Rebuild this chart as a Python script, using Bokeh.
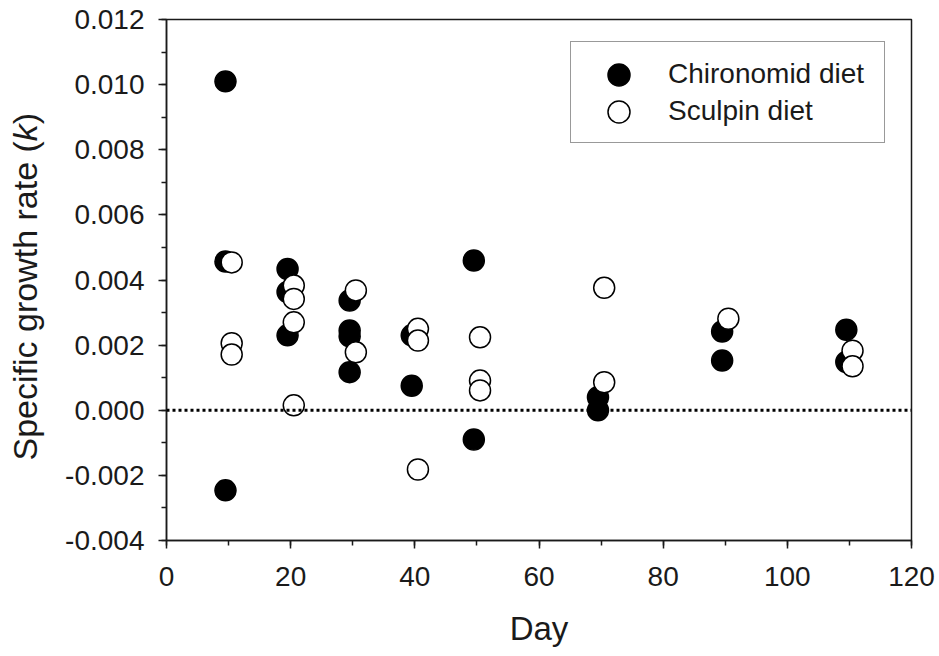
from math import pi
from bokeh.plotting import figure
from bokeh.layouts import row
from bokeh.models import (Range1d, SingleIntervalTicker, PrintfTickFormatter, Span,
                          Label, Legend, LegendItem)
from bokeh.embed import file_html
from bokeh.resources import INLINE

# ---- data ----
chiro_day = [9.5, 9.5, 9.5,
             19.5, 19.5, 19.5,
             29.5, 29.5, 29.5, 29.5,
             39.5, 39.5,
             49.5, 49.5,
             69.5, 69.5,
             89.5, 89.5,
             109.5, 109.5]
chiro_k = [0.01010, 0.00457, -0.00246,
           0.00434, 0.00363, 0.00230,
           0.00337, 0.00245, 0.00227, 0.00117,
           0.00230, 0.00075,
           0.00460, -0.00090,
           0.00040, 0.00000,
           0.00242, 0.00153,
           0.00247, 0.00148]
sculp_day = [10.5, 10.5, 10.5,
             20.5, 20.5, 20.5, 20.5,
             30.5, 30.5,
             40.5, 40.5, 40.5,
             50.5, 50.5, 50.5,
             70.5, 70.5,
             90.5,
             110.5, 110.5]
sculp_k = [0.00454, 0.00206, 0.00171,
           0.00383, 0.00342, 0.00270, 0.00015,
           0.00368, 0.00178,
           0.00250, 0.00214, -0.00182,
           0.00224, 0.00091, 0.00061,
           0.00376, 0.00086,
           0.00281,
           0.00183, 0.00135]
series_labels = ["Chironomid diet", "Sculpin diet"]
x_label = "Day"
y_label_parts = ["Specific growth rate (", "k", ")"]

# ---- layout constants ----
W, H = 939, 656
SIDE = 56                      # narrow strip holding the y-axis title
L, R, T, B = 166, 28, 19, 116  # frame margins in the full window
XMIN, XMAX, YMIN, YMAX = 0, 120, -0.004, 0.012
FONT = "Liberation Sans"
INK = "#1a1a1a"
MS = 21

p = figure(width=W - SIDE, height=H, x_range=Range1d(XMIN, XMAX), y_range=Range1d(YMIN, YMAX),
           output_backend="svg", toolbar_location=None,
           min_border_left=L - SIDE, min_border_right=R, min_border_top=T, min_border_bottom=B)
p.background_fill_color = "white"
p.border_fill_color = "white"
p.outline_line_color = INK
p.outline_line_width = 1.5
p.xgrid.visible = False
p.ygrid.visible = False

p.xaxis.ticker = SingleIntervalTicker(interval=20, num_minor_ticks=2)
p.yaxis.ticker = SingleIntervalTicker(interval=0.002, num_minor_ticks=2)
p.yaxis.formatter = PrintfTickFormatter(format="%.3f")
for ax in (p.xaxis, p.yaxis):
    ax.axis_line_color = INK
    ax.axis_line_width = 1.5
    ax.major_tick_line_color = INK
    ax.minor_tick_line_color = INK
    ax.major_tick_line_width = 1.5
    ax.minor_tick_line_width = 1.5
    ax.major_tick_in = 0
    ax.major_tick_out = 8
    ax.minor_tick_in = 0
    ax.minor_tick_out = 5
    ax.major_label_text_font = FONT
    ax.major_label_text_font_size = "28px"
    ax.major_label_text_color = INK
p.xaxis.major_label_standoff = 18
p.yaxis.major_label_standoff = 14
p.xaxis.axis_label = x_label
p.xaxis.axis_label_text_font = FONT
p.xaxis.axis_label_text_font_size = "33px"
p.xaxis.axis_label_text_font_style = "normal"
p.xaxis.axis_label_text_color = INK
p.xaxis.axis_label_standoff = 21

# zero reference line
p.add_layout(Span(location=0, dimension="width", line_color="black",
                  line_width=3, line_dash="3 3"))

r1 = p.scatter(chiro_day, chiro_k, marker="circle", size=MS,
               fill_color="black", line_color="black", line_width=1.5)
r2 = p.scatter(sculp_day, sculp_k, marker="circle", size=MS,
               fill_color="white", line_color="black", line_width=1.5)

# legend box with labels (rows 37 px apart)
frame_bottom = H - B
box_left, box_top = 570, 43
pad, gh, gw = 13, 37, 70
legend = Legend(items=[LegendItem(label=series_labels[0], renderers=[r1]),
                       LegendItem(label=series_labels[1], renderers=[r2])],
                location=(box_left - L, frame_bottom - (box_top + 2 * pad + 2 * gh)),
                glyph_width=gw, glyph_height=gh, padding=pad, spacing=0,
                label_standoff=14, label_width=203, margin=0,
                border_line_color="#333333", border_line_width=1.2,
                label_text_font=FONT, label_text_font_size="28px",
                label_text_color=INK, background_fill_color="white",
                background_fill_alpha=1)
p.add_layout(legend)

# full-size legend markers laid over the small default legend glyphs
big = 55  # marker legend glyph is 0.4 * min(glyph box) -> 22 px
for i, r in enumerate([r1, r2]):
    cx = box_left + pad + gw / 2
    cy = box_top + pad + gh / 2 + i * gh
    lg = Legend(items=[LegendItem(label=" ", renderers=[r])],
                location=(cx - big / 2 - L, frame_bottom - (cy + big / 2)),
                glyph_width=big, glyph_height=big, padding=0, spacing=0,
                label_standoff=0, label_width=0, margin=0,
                border_line_alpha=0, background_fill_alpha=0,
                label_text_font_size="1px", inactive_fill_alpha=0)
    p.add_layout(lg)

# y-axis title strip (a frame-only figure), with italic k
side = figure(frame_width=SIDE, frame_height=H, x_range=Range1d(0, SIDE), y_range=Range1d(0, H),
              output_backend="svg", toolbar_location=None, title_location=None,
              x_axis_location=None, y_axis_location=None,
              min_border_left=0, min_border_right=0, min_border_top=0, min_border_bottom=0)
side.outline_line_color = None
side.background_fill_color = "white"
side.border_fill_color = "white"
side.xgrid.visible = False
side.ygrid.visible = False
fs = 34
ems = [9.392, 0.5, 0.333]
py = 441
for txt, em, style in zip(y_label_parts, ems, ["normal", "italic", "normal"]):
    side.add_layout(Label(x=24, y=H - py, text=txt, angle=pi / 2,
                          text_align="left", text_baseline="alphabetic",
                          text_font=FONT, text_font_size=f"{fs}px",
                          text_font_style=style, text_color=INK))
    py -= em * fs

layout = row(side, p, spacing=0)
open("out.html", "w").write(file_html(layout, INLINE))
